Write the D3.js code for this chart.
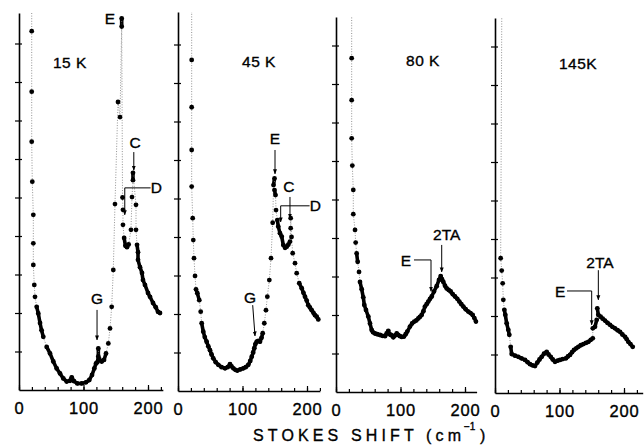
<!DOCTYPE html>
<html><head><meta charset="utf-8">
<script src="https://cdn.jsdelivr.net/npm/d3@7"></script>
<style>body{margin:0;background:#fff} svg{display:block;font-family:"Liberation Sans",Arial,sans-serif} text{fill:#000;stroke:#000;stroke-width:0.35}</style>
</head><body>
<svg id="c" width="644" height="446"></svg>
<script>
// ---------- data ----------
const panelLabels = ["15 K", "45 K", "80 K", "145K"];
const xTickLabels = [0, 100, 200];
const xMinorTicks = [0, 20, 40, 60, 80, 100, 120, 140, 160, 180, 200, 220];
const yTicks = [1, 2, 3, 4, 5, 6, 7, 8, 9];
const axisTitle = "STOKES SHIFT (cm";
const axisTitleSup = "\u2212" + "1";

// [Stokes shift (cm-1), intensity (arb., tick units)]
const spectrum15K = [[19.7,10.4],[19.7,9.32],[19.7,7.75],[19.7,6.45],[20.6,5.41],[22.2,4.55],[22.2,3.81],[22.2,3.25],[23.7,2.73],[24.8,2.42],[27.4,2.16],[29.9,1.99],[32.6,1.74],[35,1.55],[37.7,1.38],[42.9,1.12],[48.1,0.95],[53.2,0.74],[58.4,0.56],[63.6,0.43],[68.7,0.30],[73.9,0.22],[79.1,0.24],[81.7,0.33],[85.3,0.23],[90.4,0.17],[97.2,0.17],[103.9,0.2],[109,0.26],[113.2,0.39],[116.8,0.56],[119.4,0.69],[121.4,0.72],[123,0.87],[123,1.08],[124.5,0.8],[128.2,0.74],[131.8,0.78],[134.9,0.95],[138.5,1.21],[141.1,1.6],[143.7,2.16],[146.2,3.12],[148.8,4.83],[153.5,7.48],[156.6,7.09],[159.2,9.44],[159.2,9.65],[160.5,5.0],[161.2,4.68],[161.2,4.29],[163,3.95],[165,3.75],[167.4,3.71],[170,3.78],[173.6,4.16],[175.2,5.01],[176.7,5.45],[176.7,5.64],[181.4,4.81],[181.4,4.16],[183,3.77],[184.5,3.58],[184.5,3.38],[187.6,3.19],[190.7,3.04],[192.2,2.86],[195.3,2.73],[200,2.52],[203.1,2.42],[207.8,2.26],[212,2.15],[215.5,2.03],[218.6,2.0]];
const spectrum45K = [[21.2,10.0],[21.2,8.6],[21.2,7.37],[21.2,6.26],[21.2,5.31],[22.8,4.49],[23.7,3.92],[24.8,3.45],[26.4,2.99],[27.9,2.64],[30,2.54],[33,2.36],[35.2,2.06],[36.7,1.76],[39.2,1.54],[41.5,1.4],[44.4,1.28],[47,1.16],[49.6,1.06],[52,0.95],[54.7,0.85],[58.5,0.75],[62.5,0.68],[67.5,0.62],[72.9,0.59],[77,0.62],[80.6,0.7],[83,0.64],[85.8,0.59],[89,0.55],[92,0.53],[96.5,0.56],[101.3,0.59],[105,0.62],[109,0.68],[112,0.78],[114.3,0.89],[116.5,1.0],[118.3,1.11],[120,1.22],[122,1.28],[124.5,1.3],[127.1,1.28],[129.5,1.38],[131.3,1.5],[133.8,1.76],[136.4,2.1],[138.5,2.45],[141.6,2.88],[144.2,3.45],[146.8,4.37],[148.1,5.35],[149.6,5.52],[149.6,5.22],[151.2,5.09],[152,4.7],[154,4.44],[155.5,4.27],[158.1,4.1],[160.8,4.01],[163.3,3.79],[166,3.72],[168.5,3.75],[171,3.8],[173.6,3.88],[174.7,4.23],[174.7,4.49],[176,4.0],[177.8,3.58],[181.4,3.32],[184,3.06],[188,2.8],[191.8,2.67],[194.5,2.55],[196.9,2.45],[199.5,2.35],[202,2.23],[204.5,2.17],[207.3,2.1],[210,2.03],[212.4,1.97],[215,1.93],[217.5,1.86]];
const spectrum80K = [[24.3,10.0],[24.3,8.67],[24.3,7.58],[24.3,6.59],[25.3,5.88],[26.8,5.25],[26.8,4.62],[29.5,4.21],[30.5,3.88],[32,3.6],[33.6,3.38],[35.7,3.12],[37.2,2.86],[39.8,2.67],[42.3,2.46],[43.9,2.26],[46.5,2.13],[50.1,1.96],[52.7,1.78],[55.3,1.61],[57.5,1.55],[60.5,1.52],[64,1.5],[68.2,1.48],[72,1.46],[76,1.45],[78.5,1.52],[81.1,1.59],[83,1.5],[85.3,1.48],[88.9,1.42],[91.5,1.47],[94.1,1.52],[96.5,1.48],[99.2,1.45],[102,1.43],[105.4,1.44],[108,1.5],[110.5,1.57],[114.7,1.7],[118,1.78],[121.4,1.83],[124.5,1.86],[127.6,1.91],[130,1.95],[132.8,2.0],[135.5,2.1],[137.9,2.22],[140.5,2.28],[143.1,2.35],[145.8,2.42],[148.4,2.48],[151.9,2.61],[156.1,2.75],[159.7,2.91],[162.3,3.01],[164.3,2.93],[166.4,2.86],[169,2.76],[171.6,2.69],[174.7,2.65],[177.8,2.61],[181,2.54],[184.5,2.48],[188,2.42],[191.2,2.35],[194.3,2.28],[197.4,2.22],[201,2.15],[205.1,2.09],[208.5,2.05],[211.9,2.0],[214.5,1.92],[217,1.83]];
const spectrum145K = [[10.5,9.8],[8.8,3.5],[10.4,3.18],[11.9,2.85],[12.9,2.42],[14.5,2.16],[16,2.03],[18.1,1.81],[20.6,1.64],[22.2,1.51],[24.3,1.2],[25.9,1.01],[31,0.97],[36.2,0.94],[41,0.9],[46.5,0.86],[50.5,0.8],[54.3,0.75],[58,0.72],[62,0.7],[65.6,0.79],[69,0.87],[72.4,0.94],[76,1.02],[80.1,1.07],[83,1.0],[86.4,0.94],[89.5,0.87],[93,0.81],[97,0.84],[100.8,0.86],[105,0.88],[110.1,0.9],[113,0.95],[116.3,0.99],[119.5,1.06],[122.5,1.12],[126,1.16],[129.2,1.2],[133,1.24],[137,1.27],[141,1.3],[144.8,1.33],[148.5,1.38],[151.6,1.42],[151.6,1.68],[155,1.72],[157.7,1.9],[158.6,2.2],[160.2,2.03],[163.8,1.98],[167,1.93],[170.5,1.88],[174.5,1.82],[178.3,1.77],[182,1.72],[186,1.68],[190,1.63],[193.8,1.59],[197.5,1.52],[201.6,1.46],[204,1.4],[206.7,1.33],[210,1.27],[213.5,1.2]];
const spectra = [spectrum15K, spectrum45K, spectrum80K, spectrum145K];

// peak annotations (data coordinates): label, label pos, leader path
const notes15K = [
  {t:"E", lx:141, ly:9.64, path:null},
  {t:"C", lx:180, ly:6.42, path:[[178,6.18],[178,5.71]]},
  {t:"D", lx:213, ly:5.25, path:[[204,5.25],[164,5.25],[164,4.55]]},
  {t:"G", lx:121, ly:2.39, path:[[121,2.08],[121,1.3]]}
];
const notes45K = [
  {t:"E", lx:150.4, ly:6.57, path:[[150.4,6.26],[150.4,5.64]]},
  {t:"C", lx:172, ly:5.32, path:[[173.6,5.04],[173.6,4.49]]},
  {t:"D", lx:213, ly:4.81, path:[[204,4.81],[159.2,4.81],[159.2,4.39]]},
  {t:"G", lx:111.6, ly:2.44, path:[[115.8,2.23],[119.4,1.43]]}
];
const notes80K = [
  {t:"2TA", lx:171.6, ly:4.1, path:[[163.9,3.82],[163.9,3.12]]},
  {t:"E", lx:108.5, ly:3.43, path:[[120.9,3.43],[147.3,3.43],[147.3,2.62]]}
];
const notes145K = [
  {t:"2TA", lx:162.8, ly:3.4, path:[[160.2,3.19],[160.2,2.42]]},
  {t:"E", lx:101, ly:2.65, path:[[111.6,2.65],[149.9,2.65],[149.9,1.77]]}
];
const notes = [notes15K, notes45K, notes80K, notes145K];
const labelPos = [[79, 8.52], [125.6, 8.55], [134.9, 8.6], [128.7, 8.57]];

// ---------- layout ----------
const originX = [19, 178, 336, 495];
const baseY = [390, 391, 392, 393];
const topY = [13, 12, 17, 18];
const xMax = [223, 220, 218, 229];
const pxPerX = 0.645, pxPerY = 38.5;

const svg = d3.select("#c");
svg.append("defs").append("marker").attr("id","ah").attr("viewBox","0 0 10 10")
  .attr("refX",9).attr("refY",5).attr("markerWidth",5).attr("markerHeight",7)
  .attr("markerUnits","userSpaceOnUse").attr("orient","auto")
  .append("path").attr("d","M0,1L10,5L0,9Z").attr("fill","#000");

spectra.forEach((data, i) => {
  const x = d3.scaleLinear().domain([0, xMax[i]]).range([originX[i], originX[i] + xMax[i]*pxPerX]);
  const yTopVal = (baseY[i]-topY[i])/pxPerY;
  const y = d3.scaleLinear().domain([0, yTopVal]).range([baseY[i], topY[i]]);
  const g = svg.append("g");

  svg.select("defs").append("clipPath").attr("id","cp"+i).append("rect")
    .attr("x", originX[i]-2).attr("y", topY[i]).attr("width", xMax[i]*pxPerX+4).attr("height", baseY[i]-topY[i]);

  // axes
  g.append("g").attr("transform",`translate(${originX[i]},0)`)
    .call(d3.axisLeft(y).tickValues(yTicks).tickSize(4).tickSizeOuter(0).tickFormat(""));
  g.append("g").attr("transform",`translate(${originX[i]},0)`)
    .call(d3.axisRight(y).tickValues(yTicks).tickSize(3).tickSizeOuter(0).tickFormat(""))
    .select(".domain").remove();
  g.append("g").attr("transform",`translate(0,${baseY[i]})`)
    .call(d3.axisBottom(x).tickValues(xMinorTicks.filter(v=>v<=xMax[i])).tickSize(-3).tickSizeOuter(0).tickFormat(""));
  const bl = g.append("g").attr("transform",`translate(0,${baseY[i]})`)
    .call(d3.axisBottom(x).tickValues(xTickLabels).tickSize(-5).tickPadding(12).tickFormat(d3.format("d")));
  bl.select(".domain").remove();
  bl.selectAll("text").attr("font-size",16.5).attr("letter-spacing",0.8).attr("fill","#000")
    .attr("font-family",'"Liberation Sans",Arial,sans-serif');
  g.selectAll(".domain").attr("stroke","#000").attr("stroke-width",1.6);
  g.selectAll(".tick line").attr("stroke","#000").attr("stroke-width",1.2);

  // spectrum
  const pg = g.append("g").attr("clip-path",`url(#cp${i})`);
  const segs = d3.pairs(data);
  pg.selectAll("line.seg").data(segs).join("line").attr("class","seg")
    .attr("x1",d=>x(d[0][0])).attr("y1",d=>y(d[0][1]))
    .attr("x2",d=>x(d[1][0])).attr("y2",d=>y(d[1][1]))
    .each(function(d){
      const L = Math.hypot(x(d[1][0])-x(d[0][0]), y(d[1][1])-y(d[0][1]));
      const s = d3.select(this);
      if (L < 10) s.attr("stroke","#000").attr("stroke-width",3.6).attr("stroke-linecap","round");
      else s.attr("stroke","#777").attr("stroke-width",0.8).attr("stroke-dasharray","1,1.6");
    });
  pg.selectAll("circle").data(data).join("circle")
    .attr("cx",d=>x(d[0])).attr("cy",d=>y(d[1])).attr("r",2.4).attr("fill","#000");

  // panel label
  g.append("text").attr("x",x(labelPos[i][0])).attr("y",y(labelPos[i][1])).attr("dy","0.36em")
    .attr("text-anchor","middle").attr("font-size",15.5).attr("letter-spacing",0.5).text(panelLabels[i]);

  // annotations
  notes[i].forEach(n => {
    g.append("text").attr("x",x(n.lx)).attr("y",y(n.ly)).attr("dy","0.36em")
      .attr("text-anchor","middle").attr("font-size",15.5).text(n.t);
    if (n.path) {
      g.append("path").attr("d", d3.line().x(p=>x(p[0])).y(p=>y(p[1]))(n.path))
        .attr("fill","none").attr("stroke","#000").attr("stroke-width",1).attr("marker-end","url(#ah)");
    }
  });
});

// axis title
const t = svg.append("g");
t.append("text").attr("x",253).attr("y",441).attr("font-size",16)
  .attr("textLength",208).attr("lengthAdjust","spacing").text(axisTitle);
t.append("text").attr("x",464).attr("y",430).attr("font-size",10).text(axisTitleSup);
t.append("text").attr("x",480).attr("y",441).attr("font-size",16).text(")");
</script>
</body></html>
